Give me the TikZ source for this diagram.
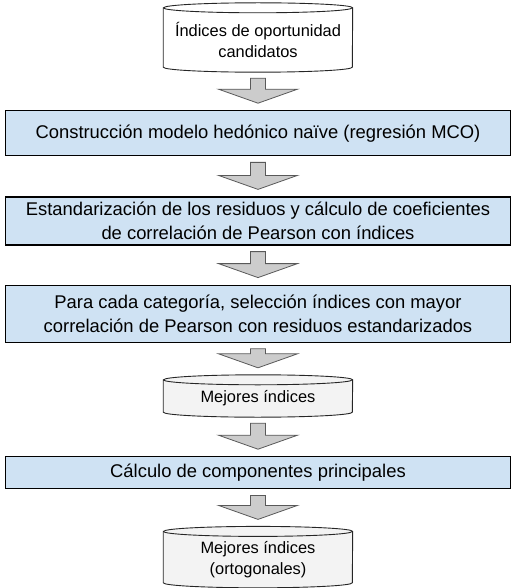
\documentclass[tikz,border=0pt]{standalone}
\usepackage{fontspec}
\setmainfont{Liberation Sans}
\usetikzlibrary{positioning,calc,backgrounds}
\definecolor{boxblue}{HTML}{CFE2F3}
\definecolor{storegray}{HTML}{F3F3F3}
\definecolor{arrowgray}{HTML}{CCCCCC}
\definecolor{arrowline}{HTML}{595959}
\tikzset{
    step box/.style={draw,line width=1.2pt,fill=boxblue,minimum width=505pt,align=center,
        font=\fontsize{18.4}{24}\selectfont},
    store/.style={minimum width=189pt,align=center,inner sep=0pt,
        font=\fontsize{16.4}{20.5}\selectfont},
    store line/.style={draw=black!85,line width=0.9pt},
    flow arrow/.style={fill=arrowgray,draw=arrowline,line width=0.8pt,line join=miter}
}
% cylinder outline behind a store node
\newcommand{\storeoutline}[2]{%
    \draw[store line,fill=#2] (#1.north west) -- ([yshift=5pt]#1.south west)
        arc[start angle=180,end angle=360,x radius=94.5pt,y radius=5pt]
        -- (#1.north east)
        arc[start angle=0,end angle=180,x radius=94.5pt,y radius=5pt] -- cycle;
    \draw[store line] (#1.north west)
        arc[start angle=180,end angle=360,x radius=94.5pt,y radius=5pt];
}
% block arrow from one node to the next
\newcommand{\flowarrow}[3][7pt]{%
    \path[flow arrow] let \p1=(#2.south), \p2=(#3.north) in
        (\x1-7.5pt,\y1-6pt) -- (\x1+7.5pt,\y1-6pt) -- (\x1+7.5pt,\y2+#1+14pt)
        -- (\x1+39.5pt,\y2+#1+14pt) -- (\x1,\y2+#1) -- (\x1-39.5pt,\y2+#1+14pt)
        -- (\x1-7.5pt,\y2+#1+14pt) -- cycle;
}

\begin{document}
\begin{tikzpicture}
    \useasboundingbox (-258pt,40pt) rectangle (259pt,-548pt);
    \node[store,minimum height=64pt] (cand) at (0,0) {Índices de oportunidad\\candidatos};
    \node[step box,minimum height=45pt] (naive) [below = 38pt of cand]
        {Construcción modelo hedónico naïve (regresión MCO)};
    \node[step box,minimum height=48pt] (pearson) [below = 40pt of naive]
        {Estandarización de los residuos y cálculo de coeficientes\\de correlación de Pearson con índices};
    \node[step box,minimum height=57pt] (select) [below = 39pt of pearson]
        {Para cada categoría, selección índices con mayor\\correlación de Pearson con residuos estandarizados};
    \node[store,minimum height=37pt] (best) [below = 37pt of select] {Mejores índices};
    \node[step box,minimum height=32pt] (pca) [below = 39pt of best]
        {Cálculo de componentes principales};
    \node[store,minimum height=56pt] (ortho) [below = 42pt of pca] {Mejores índices\\(ortogonales)};
    \begin{scope}[on background layer]
        \storeoutline{cand}{white}
        \storeoutline{best}{storegray}
        \storeoutline{ortho}{storegray}
    \end{scope}
    \flowarrow{cand}{naive}
    \flowarrow{naive}{pearson}
    \flowarrow{pearson}{select}
    \flowarrow[12pt]{select}{best}
    \flowarrow{best}{pca}
    \flowarrow[12pt]{pca}{ortho}
\end{tikzpicture}
\end{document}
